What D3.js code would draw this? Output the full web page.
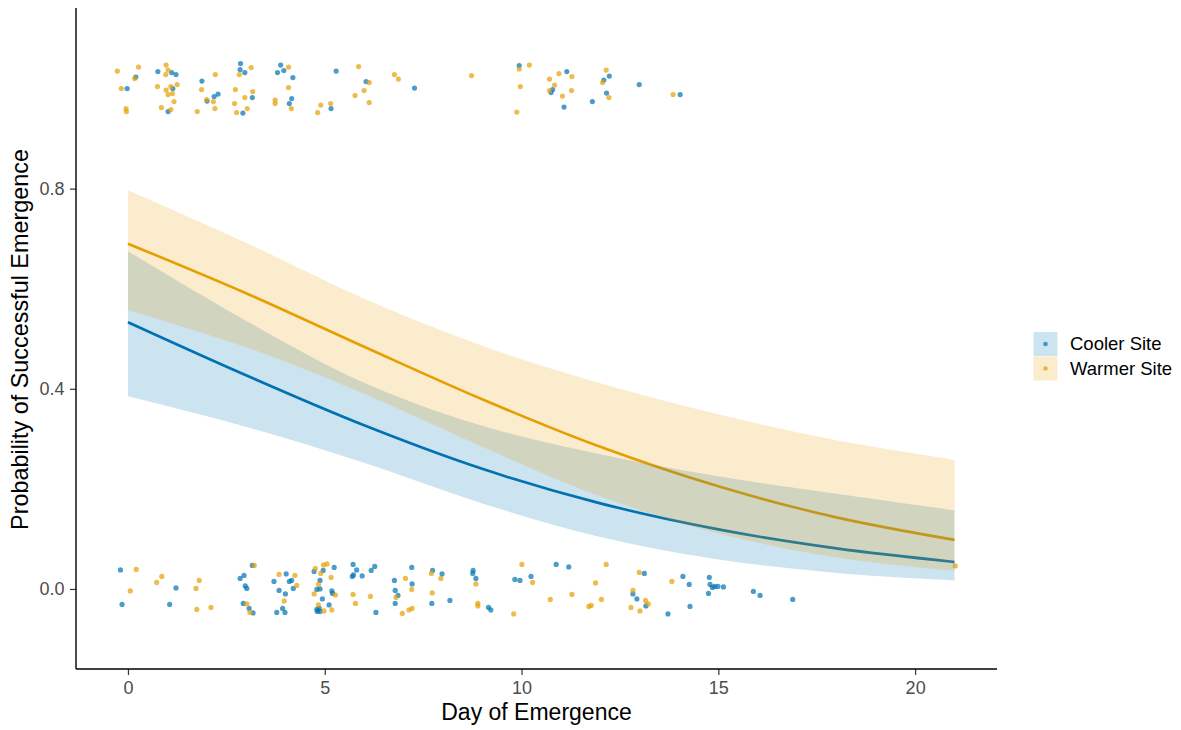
<!DOCTYPE html>
<html>
<head>
<meta charset="utf-8">
<script src="https://cdn.jsdelivr.net/npm/d3@7"></script>
<style>
  html, body { margin: 0; padding: 0; background: #ffffff; }
  svg { display: block; font-family: "Liberation Sans", Arial, Helvetica, sans-serif; }
</style>
</head>
<body>
<svg id="chart" width="1181" height="730"></svg>
<script>
// Fitted probability of successful emergence by day, with 95% bands
const days = [0, 3, 6, 9, 12, 15, 18, 21];
const coolerFit  = [0.533, 0.427, 0.327, 0.240, 0.171, 0.119, 0.081, 0.054];
const coolerLow  = [0.385, 0.324, 0.252, 0.171, 0.104, 0.059, 0.032, 0.017];
const coolerHigh = [0.675, 0.536, 0.412, 0.326, 0.269, 0.225, 0.190, 0.157];
const warmerFit  = [0.690, 0.591, 0.484, 0.379, 0.284, 0.205, 0.143, 0.098];
const warmerLow  = [0.557, 0.483, 0.390, 0.284, 0.185, 0.111, 0.063, 0.036];
const warmerHigh = [0.797, 0.692, 0.580, 0.486, 0.411, 0.349, 0.297, 0.258];

// Observed outcomes (1 = emerged, 0 = did not), jittered [day, outcome]
const coolerPoints = [
  [0.20,1.023],[-0.02,1.000],[0.76,1.034],[1.11,1.032],[1.22,1.028],[1.14,1.000],[1.02,0.954],
  [1.88,1.015],[2.01,0.975],[2.19,0.984],[2.29,0.989],[2.86,1.050],[2.85,1.038],[2.97,1.032],
  [3.16,0.982],[2.92,0.951],[3.88,1.047],[3.96,1.036],[3.80,1.032],[4.19,1.022],[4.16,0.980],
  [4.10,0.970],[5.29,1.035],[6.05,1.014],[5.16,0.960],[7.28,1.001],[9.94,1.046],[11.15,1.034],
  [10.79,0.998],[10.75,0.992],[11.08,0.963],[12.23,1.025],[12.09,1.017],[12.16,0.991],
  [11.80,0.974],[12.99,1.008],[14.03,0.988],
  [-0.19,0.038],[-0.15,-0.031],[1.22,0.002],[1.06,-0.031],[2.85,0.021],[2.95,0.027],[3.16,0.047],
  [2.98,0.006],[3.02,0.001],[2.93,-0.029],[3.08,-0.039],[3.18,-0.048],[3.71,0.015],[4.02,0.030],
  [4.10,0.015],[4.16,0.017],[4.20,0.001],[3.84,-0.003],[4.00,-0.010],[3.93,-0.039],[3.99,-0.047],
  [3.78,-0.047],[4.73,0.035],[4.96,0.037],[5.24,0.043],[4.88,0.017],[4.80,-0.001],[4.88,0.000],
  [5.18,-0.004],[5.20,-0.009],[4.94,-0.020],[5.11,-0.032],[4.80,-0.041],[4.86,-0.039],
  [4.88,-0.045],[4.81,-0.045],[5.72,0.049],[5.81,0.038],[5.70,0.025],[5.73,0.028],[5.95,0.026],
  [6.18,0.037],[6.27,0.045],[6.30,-0.047],[7.21,0.043],[6.77,0.017],[7.22,0.010],[6.79,-0.003],
  [6.86,-0.013],[6.79,-0.029],[7.74,0.037],[7.98,0.030],[7.72,-0.029],[8.18,-0.023],[8.77,0.037],
  [8.76,0.031],[8.84,0.021],[9.16,-0.037],[9.22,-0.042],[9.83,0.019],[9.96,0.017],[10.24,0.025],
  [10.88,0.049],[11.20,0.044],[13.12,0.031],[12.83,-0.010],[12.93,-0.020],[13.16,-0.034],
  [13.72,-0.050],[14.10,0.025],[14.26,0.009],[14.28,-0.035],[14.77,0.023],[14.79,0.009],
  [14.85,0.003],[14.91,0.005],[14.99,0.005],[15.13,0.004],[14.75,-0.009],[15.89,-0.005],
  [16.06,-0.013],[16.89,-0.021]
];
const warmerPoints = [
  [-0.27,1.035],[0.27,1.043],[0.17,1.020],[-0.17,1.000],[-0.05,0.960],[-0.04,0.954],[0.97,1.047],
  [1.02,1.037],[0.96,1.028],[1.25,1.008],[0.75,1.004],[0.97,0.997],[1.09,1.004],[1.02,0.988],
  [1.13,0.990],[1.17,0.974],[0.85,0.962],[1.09,0.958],[2.22,1.028],[1.87,0.998],[2.00,0.978],
  [2.17,0.974],[2.21,0.960],[1.76,0.954],[2.83,1.028],[3.13,1.042],[2.73,0.998],[2.97,0.982],
  [3.17,0.994],[2.71,0.970],[3.03,0.960],[2.76,0.952],[4.08,1.043],[4.08,1.002],[3.74,0.977],
  [3.74,0.970],[4.15,0.960],[5.86,1.044],[6.13,1.012],[6.00,0.996],[5.77,0.986],[6.13,0.972],
  [4.90,0.967],[5.15,0.970],[4.82,0.952],[6.77,1.028],[6.87,1.019],[8.73,1.026],[9.94,1.039],
  [10.20,1.047],[9.97,1.004],[9.88,0.953],[10.71,1.019],[10.95,1.030],[11.28,1.024],
  [10.84,1.007],[10.71,0.996],[11.27,0.996],[11.04,0.985],[12.15,1.037],[12.06,1.012],
  [12.22,0.982],[13.85,0.988],
  [0.21,0.039],[0.06,-0.004],[0.86,0.025],[0.73,0.013],[1.81,0.017],[1.73,0.001],[1.75,-0.041],
  [2.11,-0.037],[3.21,0.047],[3.02,-0.030],[3.10,-0.047],[3.84,0.029],[4.24,0.027],[4.29,0.007],
  [3.97,-0.024],[4.76,0.041],[4.97,0.048],[5.06,0.050],[4.90,0.031],[5.16,0.023],[4.84,0.009],
  [5.27,-0.012],[4.73,-0.010],[4.84,-0.032],[4.98,-0.044],[5.18,-0.042],[5.72,-0.011],
  [5.78,-0.029],[6.16,-0.015],[7.05,0.021],[7.21,-0.001],[6.81,-0.017],[7.22,-0.039],
  [7.14,-0.042],[6.97,-0.049],[7.71,0.031],[7.95,0.021],[7.73,-0.008],[8.84,0.010],[8.89,-0.029],
  [8.89,-0.034],[10.01,0.049],[10.28,0.013],[9.80,-0.050],[10.73,-0.021],[11.28,-0.011],
  [11.88,0.012],[12.03,-0.021],[12.15,0.049],[11.71,-0.035],[11.77,-0.033],[12.99,0.033],
  [12.83,-0.003],[13.15,-0.023],[13.22,-0.030],[12.78,-0.037],[13.01,-0.044],[13.82,0.015],
  [21.02,0.046]
];

const xTicks = [0, 5, 10, 15, 20];
const yTicks = [0.0, 0.4, 0.8];
const siteNames = ["Cooler Site", "Warmer Site"];
const siteColors = ["#0072B2", "#E69F00"];

const svg = d3.select("#chart");

// Panel extents
const panelLeft = 76, panelRight = 997, panelTop = 8, panelBottom = 669;

const x = d3.scaleLinear().domain([-1.32, 22.08]).range([panelLeft, panelRight]);
const y = d3.scaleLinear().domain([-0.16, 1.161]).range([panelBottom, panelTop]);

const series = [
  { name: siteNames[0], color: siteColors[0], fit: coolerFit, low: coolerLow, high: coolerHigh, pts: coolerPoints },
  { name: siteNames[1], color: siteColors[1], fit: warmerFit, low: warmerLow, high: warmerHigh, pts: warmerPoints }
];

const plot = svg.append("g");

// Jittered observations
series.forEach(s => {
  plot.append("g").selectAll("circle")
    .data(s.pts)
    .join("circle")
    .attr("cx", d => x(d[0]))
    .attr("cy", d => y(d[1]))
    .attr("r", 2.6)
    .attr("fill", s.color)
    .attr("fill-opacity", 0.7);
});

// Fitted curves
const line = d3.line()
  .x((d, i) => x(days[i]))
  .y(d => y(d))
  .curve(d3.curveCatmullRom);

series.forEach(s => {
  plot.append("path")
    .attr("d", line(s.fit))
    .attr("fill", "none")
    .attr("stroke", s.color)
    .attr("stroke-width", 2.6);
});

// Confidence ribbons, laid over the curves
const area = d3.area()
  .x((d, i) => x(days[i]))
  .y0(d => y(d[0]))
  .y1(d => y(d[1]))
  .curve(d3.curveCatmullRom);

series.forEach(s => {
  plot.append("path")
    .attr("d", area(s.low.map((v, i) => [v, s.high[i]])))
    .attr("fill", s.color)
    .attr("fill-opacity", 0.2);
});

// Axes
const xAxis = svg.append("g")
  .attr("transform", `translate(0,${panelBottom})`)
  .call(d3.axisBottom(x).tickValues(xTicks).tickSize(6).tickPadding(6.5).tickFormat(d3.format("d")));
const yAxis = svg.append("g")
  .attr("transform", `translate(${panelLeft},0)`)
  .call(d3.axisLeft(y).tickValues(yTicks).tickSize(6).tickPadding(5.5).tickFormat(d3.format(".1f")));

[xAxis, yAxis].forEach(a => {
  a.select(".domain").remove();
  a.selectAll(".tick line").attr("stroke", "#333333").attr("stroke-width", 1.2);
  a.selectAll(".tick text").attr("fill", "#4d4d4d").style("font-size", "18px");
});

svg.append("line").attr("x1", panelLeft).attr("x2", panelRight).attr("y1", panelBottom).attr("y2", panelBottom)
  .attr("stroke", "#000").attr("stroke-width", 1.4);
svg.append("line").attr("x1", panelLeft).attr("x2", panelLeft).attr("y1", panelTop).attr("y2", panelBottom)
  .attr("stroke", "#000").attr("stroke-width", 1.4);

// Axis titles
svg.append("text")
  .attr("x", (panelLeft + panelRight) / 2)
  .attr("y", 720)
  .attr("text-anchor", "middle")
  .style("font-size", "23px")
  .attr("fill", "#000")
  .text("Day of Emergence");

svg.append("text")
  .attr("transform", `translate(28,${(panelTop + panelBottom) / 2 + 1}) rotate(-90)`)
  .attr("text-anchor", "middle")
  .style("font-size", "23.4px")
  .attr("fill", "#000")
  .text("Probability of Successful Emergence");

// Legend
const legend = svg.append("g").attr("transform", "translate(1033.5,332)");
series.forEach((s, i) => {
  const g = legend.append("g").attr("transform", `translate(0,${i * 24.5})`);
  g.append("rect").attr("width", 24).attr("height", 24)
    .attr("fill", s.color).attr("fill-opacity", 0.2);
  g.append("circle").attr("cx", 12).attr("cy", 12).attr("r", 2.3)
    .attr("fill", s.color).attr("fill-opacity", 0.7);
  g.append("text").attr("x", 36.5).attr("y", 12).attr("dy", "0.35em")
    .style("font-size", "18.5px").attr("fill", "#000").text(s.name);
});
</script>
</body>
</html>
